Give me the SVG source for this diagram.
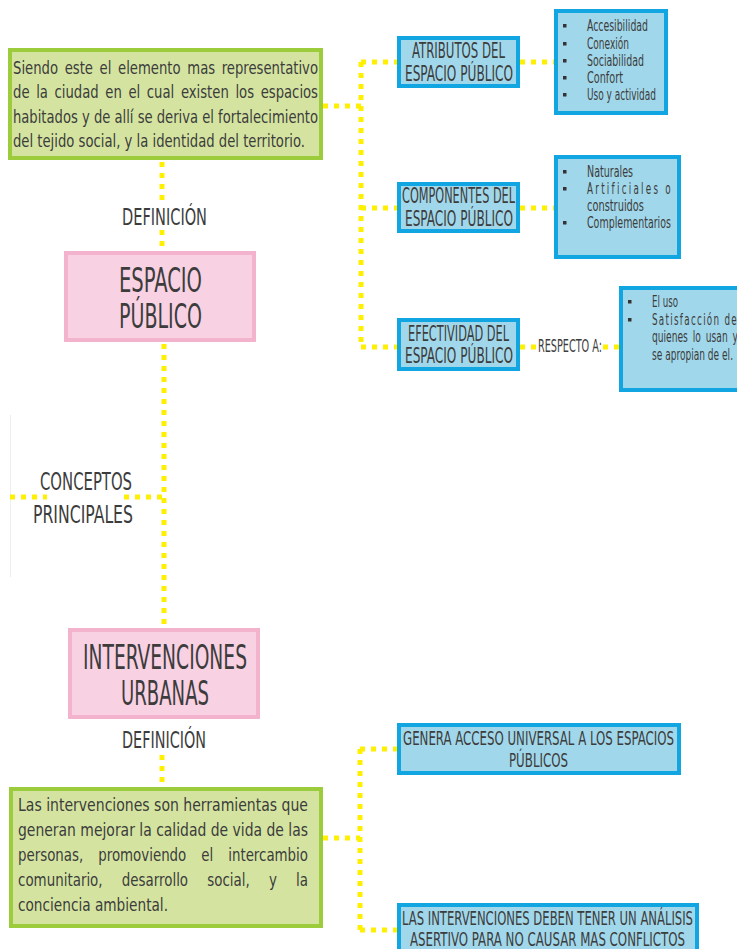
<svg xmlns="http://www.w3.org/2000/svg" width="737" height="949" viewBox="0 0 737 949">
<defs>
<style>
.conn{fill:none;stroke:#fff000;stroke-width:5;stroke-dasharray:5 6}
.green{fill:#d4e4a0;stroke:#9ccb3c;stroke-width:4}
.pink{fill:#f8d1e3;stroke:#f4b3cd;stroke-width:4}
.blue{fill:#a1d7ea;stroke:#11a5e2;stroke-width:4}
text{font-family:"Liberation Sans Narrow","DejaVu Sans Condensed","Liberation Sans",sans-serif;fill:#3c3c3c}
.body{font-size:18px}
.title{font-size:33px}
.lab{font-size:23px}
.bl{font-size:21px}
.li{font-size:15px}
.wide{font-size:19px}
.bul{fill:#333}
</style>
</defs>
<rect width="737" height="949" fill="#ffffff"/>
<line x1="10.5" y1="415" x2="10.5" y2="577" stroke="#eeeeee" stroke-width="1"/>

<g id="connectors">
<path class="conn" d="M162,162 V201 M162,230 V251"/>
<path class="conn" d="M164,344 V628"/>
<path class="conn" d="M10,497 H47 M124,497 H164"/>
<path class="conn" d="M323,106 H361 M361,62 V347 M361,62 H397 M361,208 H397 M361,347 H397"/>
<path class="conn" d="M520,62 H554 M520,208 H554 M520,347 H537 M603,347 H619"/>
<path class="conn" d="M162,755 V787 M323,838 H360 M360,749 V930 M360,749 H397 M360,930 H397"/>
</g>

<g id="def-espacio">
<rect class="green" x="10" y="50" width="311" height="108"/>
<text class="body" x="13" y="74" textLength="305" lengthAdjust="spacingAndGlyphs" word-spacing="3">Siendo este el elemento mas representativo</text>
<text class="body" x="13" y="98" textLength="305" lengthAdjust="spacingAndGlyphs" word-spacing="3">de la ciudad en el cual existen los espacios</text>
<text class="body" x="13" y="123" textLength="305" lengthAdjust="spacingAndGlyphs">habitados y de allí se deriva el fortalecimiento</text>
<text class="body" x="13" y="147" textLength="292" lengthAdjust="spacingAndGlyphs">del tejido social, y la identidad del territorio.</text>
</g>

<g id="label-definicion-1">
<text class="lab" x="122" y="225" textLength="85" lengthAdjust="spacingAndGlyphs">DEFINICIÓN</text>
</g>

<g id="espacio-publico">
<rect class="pink" x="66" y="253" width="188" height="87"/>
<text class="title" x="119" y="292" textLength="83" lengthAdjust="spacingAndGlyphs">ESPACIO</text>
<text class="title" x="119" y="328" textLength="83" lengthAdjust="spacingAndGlyphs">PÚBLICO</text>
</g>

<g id="atributos">
<rect class="blue" x="399" y="38" width="119" height="48"/>
<text class="bl" x="412" y="58" textLength="93" lengthAdjust="spacingAndGlyphs">ATRIBUTOS DEL</text>
<text class="bl" x="405" y="81" textLength="108" lengthAdjust="spacingAndGlyphs">ESPACIO PÚBLICO</text>
</g>

<g id="atributos-lista">
<rect class="blue" x="556" y="11" width="110" height="102"/>
<rect class="bul" x="563" y="24" width="3.5" height="3.5"/>
<rect class="bul" x="563" y="42" width="3.5" height="3.5"/>
<rect class="bul" x="563" y="59" width="3.5" height="3.5"/>
<rect class="bul" x="563" y="76" width="3.5" height="3.5"/>
<rect class="bul" x="563" y="93" width="3.5" height="3.5"/>
<text class="li" x="587" y="31" textLength="61" lengthAdjust="spacingAndGlyphs">Accesibilidad</text>
<text class="li" x="587" y="49" textLength="42" lengthAdjust="spacingAndGlyphs">Conexión</text>
<text class="li" x="587" y="66" textLength="57" lengthAdjust="spacingAndGlyphs">Sociabilidad</text>
<text class="li" x="587" y="83" textLength="36" lengthAdjust="spacingAndGlyphs">Confort</text>
<text class="li" x="587" y="100" textLength="69" lengthAdjust="spacingAndGlyphs">Uso y actividad</text>
</g>

<g id="componentes">
<rect class="blue" x="399" y="184" width="119" height="47"/>
<text class="bl" x="402" y="203" textLength="113" lengthAdjust="spacingAndGlyphs">COMPONENTES DEL</text>
<text class="bl" x="405" y="226" textLength="108" lengthAdjust="spacingAndGlyphs">ESPACIO PÚBLICO</text>
</g>

<g id="componentes-lista">
<rect class="blue" x="556" y="157" width="123" height="100"/>
<rect class="bul" x="563" y="170" width="3.5" height="3.5"/>
<rect class="bul" x="563" y="187" width="3.5" height="3.5"/>
<rect class="bul" x="563" y="221" width="3.5" height="3.5"/>
<text class="li" x="587" y="177" textLength="46" lengthAdjust="spacingAndGlyphs">Naturales</text>
<text class="li" x="587" y="194" textLength="86" lengthAdjust="spacingAndGlyphs" letter-spacing="3.5">Artificiales o</text>
<text class="li" x="587" y="211" textLength="57" lengthAdjust="spacingAndGlyphs">construidos</text>
<text class="li" x="587" y="228" textLength="84" lengthAdjust="spacingAndGlyphs">Complementarios</text>
</g>

<g id="efectividad">
<rect class="blue" x="399" y="320" width="119" height="49"/>
<text class="bl" x="408" y="341" textLength="101" lengthAdjust="spacingAndGlyphs">EFECTIVIDAD DEL</text>
<text class="bl" x="405" y="363" textLength="108" lengthAdjust="spacingAndGlyphs">ESPACIO PÚBLICO</text>
</g>

<g id="label-respecto">
<text x="538" y="352" font-size="17" textLength="64" lengthAdjust="spacingAndGlyphs">RESPECTO A:</text>
</g>

<g id="efectividad-lista">
<rect class="blue" x="621" y="288" width="130" height="102"/>
<rect class="bul" x="628" y="300" width="3.5" height="3.5"/>
<rect class="bul" x="628" y="318" width="3.5" height="3.5"/>
<text class="li" x="652" y="307" textLength="26" lengthAdjust="spacingAndGlyphs">El uso</text>
<text class="li" x="652" y="325" textLength="86" lengthAdjust="spacingAndGlyphs" letter-spacing="2">Satisfacción de</text>
<text class="li" x="652" y="342" textLength="86" lengthAdjust="spacingAndGlyphs" word-spacing="3">quienes lo usan y</text>
<text class="li" x="652" y="360" textLength="81" lengthAdjust="spacingAndGlyphs">se apropian de el.</text>
</g>

<g id="label-conceptos">
<text x="40" y="490" font-size="25" textLength="92" lengthAdjust="spacingAndGlyphs">CONCEPTOS</text>
<text x="33" y="523" font-size="25" textLength="100" lengthAdjust="spacingAndGlyphs">PRINCIPALES</text>
</g>

<g id="intervenciones-urbanas">
<rect class="pink" x="70" y="630" width="188" height="87"/>
<text class="title" x="83" y="669" textLength="164" lengthAdjust="spacingAndGlyphs">INTERVENCIONES</text>
<text class="title" x="121" y="705" textLength="88" lengthAdjust="spacingAndGlyphs">URBANAS</text>
</g>

<g id="label-definicion-2">
<text class="lab" x="122" y="748" textLength="84" lengthAdjust="spacingAndGlyphs">DEFINICIÓN</text>
</g>

<g id="def-intervenciones">
<rect class="green" x="11" y="789" width="310" height="137"/>
<text class="body" x="18" y="811" textLength="290" lengthAdjust="spacingAndGlyphs">Las intervenciones son herramientas que</text>
<text class="body" x="18" y="836" textLength="290" lengthAdjust="spacingAndGlyphs">generan mejorar la calidad de vida de las</text>
<text class="body" x="18" y="861" textLength="290" lengthAdjust="spacingAndGlyphs" word-spacing="13">personas, promoviendo el intercambio</text>
<text class="body" x="18" y="886" textLength="290" lengthAdjust="spacingAndGlyphs" word-spacing="18">comunitario, desarrollo social, y la</text>
<text class="body" x="18" y="911" textLength="150" lengthAdjust="spacingAndGlyphs">conciencia ambiental.</text>
</g>

<g id="acceso-universal">
<rect class="blue" x="399" y="725" width="280" height="48"/>
<text class="wide" x="403" y="745" textLength="271" lengthAdjust="spacingAndGlyphs">GENERA ACCESO UNIVERSAL A LOS ESPACIOS</text>
<text class="wide" x="509" y="767" textLength="59" lengthAdjust="spacingAndGlyphs">PÚBLICOS</text>
</g>

<g id="analisis-asertivo">
<rect class="blue" x="399" y="905" width="298" height="60"/>
<text class="wide" x="402" y="925" textLength="291" lengthAdjust="spacingAndGlyphs">LAS INTERVENCIONES DEBEN TENER UN ANÁLISIS</text>
<text class="wide" x="410" y="946" textLength="275" lengthAdjust="spacingAndGlyphs">ASERTIVO PARA NO CAUSAR MAS CONFLICTOS</text>
</g>
</svg>
